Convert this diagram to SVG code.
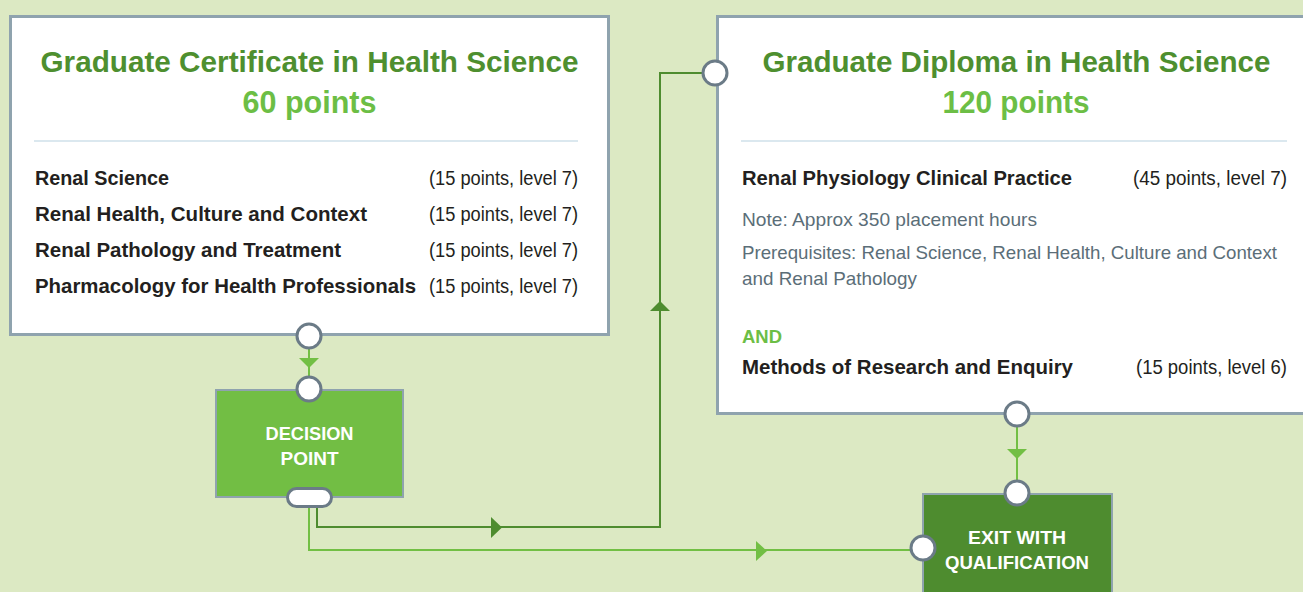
<svg xmlns="http://www.w3.org/2000/svg" width="1303" height="592" viewBox="0 0 1303 592">
<style>
.boxfill{fill:#ffffff}
.box{fill:#ffffff;stroke:#8fa3ae;stroke-width:3}
.boxedge{fill:none;stroke:#8fa3ae;stroke-width:3}
.title{font-family:"Liberation Sans",Arial,sans-serif;font-weight:bold;font-size:30px;fill:#4e8f2f;text-anchor:middle}
.pts{font-family:"Liberation Sans",Arial,sans-serif;font-weight:bold;font-size:32px;fill:#6cbe45;text-anchor:middle}
.course{font-family:"Liberation Sans",Arial,sans-serif;font-weight:bold;font-size:21px;fill:#231f20}
.credit{font-family:"Liberation Sans",Arial,sans-serif;font-size:20px;fill:#231f20;text-anchor:end}
.note{font-family:"Liberation Sans",Arial,sans-serif;font-size:19px;fill:#5b6e78}
.and{font-family:"Liberation Sans",Arial,sans-serif;font-weight:bold;font-size:19px;fill:#6cbe45}
.sep{stroke:#cfe1ea;stroke-width:1.5}
.dec{fill:#72be44;stroke:#8fa3ae;stroke-width:2}
.exit{fill:#4e8c2f;stroke:#8fa3ae;stroke-width:2}
.btxt{font-family:"Liberation Sans",Arial,sans-serif;font-weight:bold;font-size:19px;fill:#ffffff;text-anchor:middle}
.port{fill:#ffffff;stroke:#6b7b87;stroke-width:3}
.dark{fill:none;stroke:#4e8c2f;stroke-width:2}
.light{fill:none;stroke:#72bf44;stroke-width:2}
.darkhead{fill:#4e8c2f}
.lighthead{fill:#72bf44}
</style>
<rect x="0" y="0" width="1303" height="592" fill="#dce9c3"/>

<g id="connectors">
  <path class="light" d="M309,336 V389"/>
  <polygon class="lighthead" points="299,358 319,358 309,368"/>
  <path class="dark" d="M317,507 V527 H660 V73 H715"/>
  <polygon class="darkhead" points="491,517 491,538 502,527.5"/>
  <polygon class="darkhead" points="650,311 670,311 660,301"/>
  <path class="light" d="M309,507 V550 H923"/>
  <polygon class="lighthead" points="756,541 756,561 767,551"/>
  <path class="light" d="M1017,414 V493"/>
  <polygon class="lighthead" points="1007,449 1027,449 1017,459"/>
</g>

<g id="grad-certificate">
  <rect class="box" x="10.5" y="16.5" width="598" height="318"/>
  <text class="title" x="309.5" y="72" textLength="538" lengthAdjust="spacingAndGlyphs">Graduate Certificate in Health Science</text>
  <text class="pts" x="309.5" y="113" textLength="134" lengthAdjust="spacingAndGlyphs">60 points</text>
  <line class="sep" x1="34" y1="141" x2="578" y2="141"/>
  <text class="course" x="35" y="185" textLength="134" lengthAdjust="spacingAndGlyphs">Renal Science</text>
  <text class="credit" x="578" y="185" textLength="149" lengthAdjust="spacingAndGlyphs">(15 points, level 7)</text>
  <text class="course" x="35" y="221" textLength="332" lengthAdjust="spacingAndGlyphs">Renal Health, Culture and Context</text>
  <text class="credit" x="578" y="221" textLength="149" lengthAdjust="spacingAndGlyphs">(15 points, level 7)</text>
  <text class="course" x="35" y="257" textLength="306" lengthAdjust="spacingAndGlyphs">Renal Pathology and Treatment</text>
  <text class="credit" x="578" y="257" textLength="149" lengthAdjust="spacingAndGlyphs">(15 points, level 7)</text>
  <text class="course" x="35" y="293" textLength="381" lengthAdjust="spacingAndGlyphs">Pharmacology for Health Professionals</text>
  <text class="credit" x="578" y="293" textLength="149" lengthAdjust="spacingAndGlyphs">(15 points, level 7)</text>
  <circle class="port" cx="309" cy="336" r="12"/>
</g>

<g id="grad-diploma">
  <rect class="boxfill" x="717.5" y="16.5" width="585.5" height="397"/>
  <path class="boxedge" d="M1303,16.5 H717.5 V413.5 H1303"/>
  <text class="title" x="1016.5" y="72" textLength="508" lengthAdjust="spacingAndGlyphs">Graduate Diploma in Health Science</text>
  <text class="pts" x="1016" y="113" textLength="147" lengthAdjust="spacingAndGlyphs">120 points</text>
  <line class="sep" x1="741" y1="141" x2="1287" y2="141"/>
  <text class="course" x="742" y="185" textLength="330" lengthAdjust="spacingAndGlyphs">Renal Physiology Clinical Practice</text>
  <text class="credit" x="1287" y="185" textLength="154" lengthAdjust="spacingAndGlyphs">(45 points, level 7)</text>
  <text class="note" x="742" y="226" textLength="295" lengthAdjust="spacingAndGlyphs">Note: Approx 350 placement hours</text>
  <text class="note" x="742" y="259" textLength="535" lengthAdjust="spacingAndGlyphs">Prerequisites: Renal Science, Renal Health, Culture and Context</text>
  <text class="note" x="742" y="285" textLength="175" lengthAdjust="spacingAndGlyphs">and Renal Pathology</text>
  <text class="and" x="742" y="343" textLength="40" lengthAdjust="spacingAndGlyphs">AND</text>
  <text class="course" x="742" y="374" textLength="331" lengthAdjust="spacingAndGlyphs">Methods of Research and Enquiry</text>
  <text class="credit" x="1287" y="374" textLength="151" lengthAdjust="spacingAndGlyphs">(15 points, level 6)</text>
  <circle class="port" cx="715" cy="73" r="12"/>
  <circle class="port" cx="1017" cy="414" r="12"/>
</g>

<g id="decision-point">
  <rect class="dec" x="216" y="390" width="187" height="107"/>
  <text class="btxt" x="309.5" y="440" textLength="88" lengthAdjust="spacingAndGlyphs">DECISION</text>
  <text class="btxt" x="309.5" y="465" textLength="58" lengthAdjust="spacingAndGlyphs">POINT</text>
  <circle class="port" cx="309" cy="389" r="12"/>
  <rect class="port" x="287.5" y="488.5" width="44" height="18" rx="9"/>
</g>

<g id="exit-with-qualification">
  <rect class="exit" x="923" y="494" width="189" height="110"/>
  <text class="btxt" x="1017" y="544" textLength="98" lengthAdjust="spacingAndGlyphs">EXIT WITH</text>
  <text class="btxt" x="1017" y="569" textLength="144" lengthAdjust="spacingAndGlyphs">QUALIFICATION</text>
  <circle class="port" cx="1017" cy="493" r="12"/>
  <circle class="port" cx="923" cy="548" r="12"/>
</g>
</svg>
